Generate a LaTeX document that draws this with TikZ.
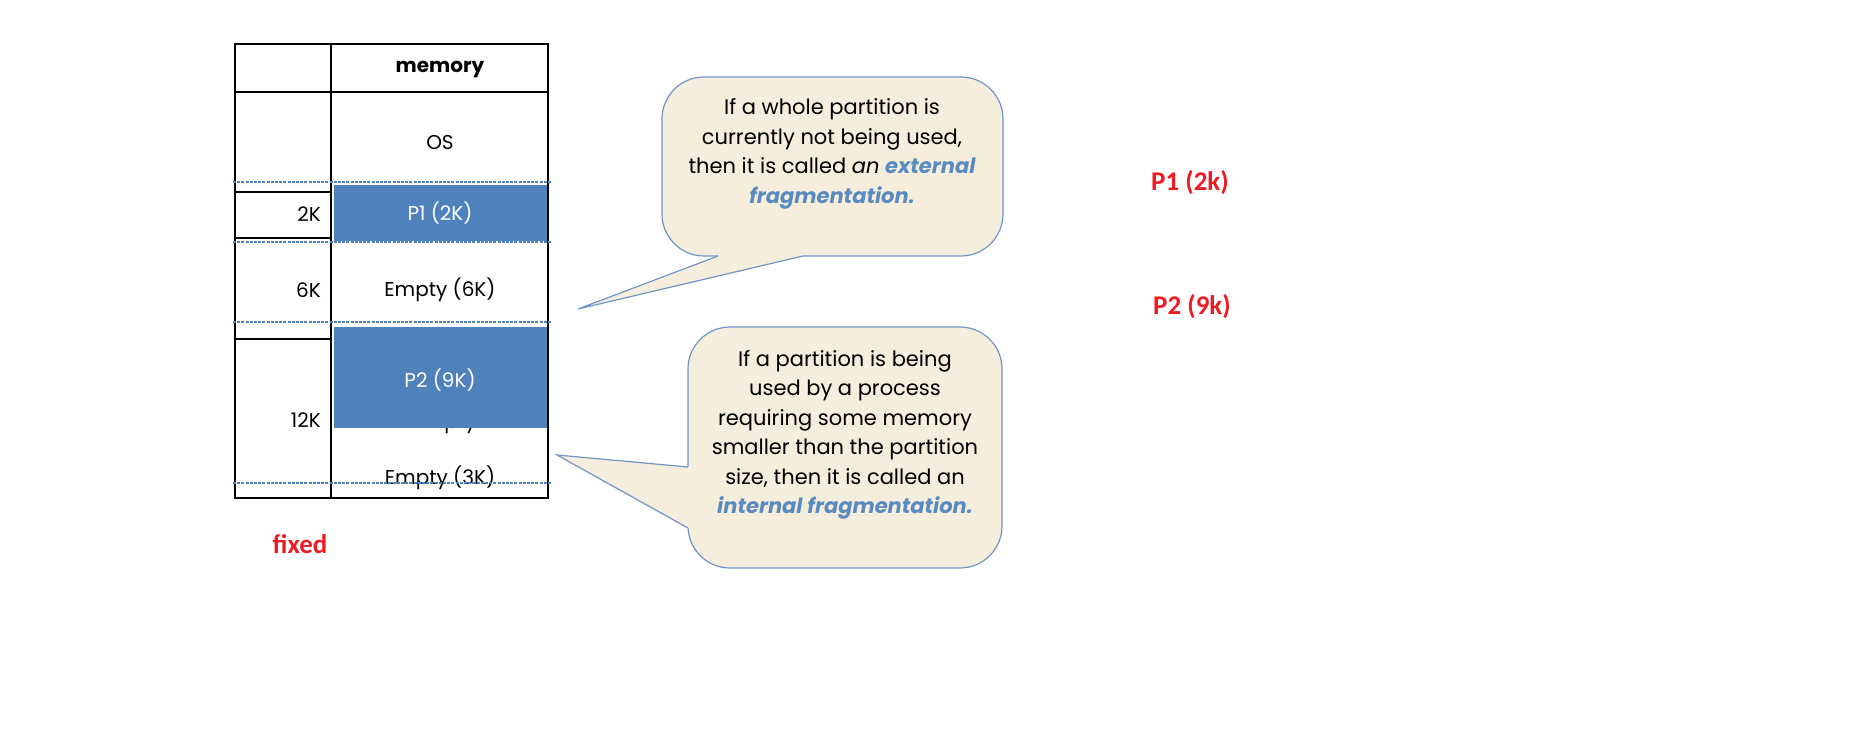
\documentclass[tikz,border=0pt]{standalone}
\usepackage{fontspec}
\setmainfont{Poppins}
\newfontfamily\calfont{Carlito}
\definecolor{pblue}{HTML}{4F81BD}
\definecolor{cream}{HTML}{F5EEDC}
\definecolor{cborder}{HTML}{7094C8}
\definecolor{emblue}{HTML}{5A8BC0}
\definecolor{lred}{HTML}{ED1C24}
\begin{document}
\begin{tikzpicture}[x=1pt,y=-1pt,
  tline/.style={black,line width=2pt},
  dline/.style={pblue,line width=2pt,dash pattern=on 3pt off 1.2pt},
  pbox/.style={fill=pblue,draw=none},
  cell/.style={font=\fontsize{20}{23}\selectfont,inner sep=0pt,anchor=center},
  wcell/.style={cell,text=white},
  numcell/.style={font=\fontsize{20}{23}\selectfont,inner sep=0pt,anchor=east},
  calltext/.style={font=\fontsize{21}{29.5}\selectfont,align=center,inner sep=0pt},
  callbody/.style={fill=cream,draw=cborder,line width=1.2pt,rounded corners=42pt},
  tailside/.style={draw=cborder,line width=1.2pt},
  redlab/.style={font=\calfont\bfseries\fontsize{27}{30}\selectfont,text=lred,inner sep=0pt}
]
\useasboundingbox (0,0) rectangle (1852,743);
% table cells text
\node[cell,font=\bfseries\fontsize{20}{23}\selectfont] (hmem) at (440,69) {memory};
\node[cell] (os) at (440,143) {OS};
\node[numcell] (n2) at (321,214) {2K};
\node[numcell] (n6) at (321,290) {6K};
\node[numcell] (n12) at (321,420) {12K};
\node[cell] (e6) at (440,290) {Empty (6K)};
\node[cell] (ehid) at (445,424) {Empty};
\node[cell] (e3) at (440,478) {Empty (3K)};
% process boxes
\fill[pbox] (334,185) rectangle (548,241);
\fill[pbox] (334,327) rectangle (548,428);
\node[wcell] (p1) at (440,213) {P1 (2K)};
\node[wcell] (p2) at (440,380) {P2 (9K)};
% grid
\draw[tline] (235,44) rectangle (548,498);
\draw[tline] (331,44) -- (331,498);
\draw[tline] (235,92) -- (548,92);
\draw[tline] (235,192) -- (331,192);
\draw[tline] (235,238) -- (331,238);
\draw[tline] (235,339) -- (331,339);
% dashed partition lines
\draw[dline] (233,182) -- (551,182);
\draw[dline] (233,242) -- (551,242);
\draw[dline] (233,322) -- (551,322);
\draw[dline] (233,483) -- (551,483);
% callout 1
\draw[callbody] (662,77) rectangle (1003,256);
\fill[cream] (718,256) -- (578,309) -- (803,256) -- (803,252) -- (718,252) -- cycle;
\draw[tailside] (718,256) -- (578,309) -- (803,256);
\node[calltext] (c1) at (832,154) {If a whole partition is\\currently not being used,\\then it is called \textit{an} \textcolor{emblue}{\bfseries\itshape external}\\\textcolor{emblue}{\bfseries\itshape fragmentation.}};
% callout 2
\draw[callbody] (688,327) rectangle (1002,568);
\fill[cream] (688,467) -- (557,455) -- (688,528) -- (692,528) -- (692,467) -- cycle;
\draw[tailside] (688,467) -- (557,455) -- (688,528);
\node[calltext] (c2) at (845,435) {If a partition is being\\used by a process\\requiring some memory\\smaller than the partition\\size, then it is called an\\\textcolor{emblue}{\bfseries\itshape internal fragmentation.}};
% red labels
\node[redlab] (fx) at (300,544) {fixed};
\node[redlab] (lp1) at (1190,183) {P1 (2k)};
\node[redlab] (lp2) at (1192,307) {P2 (9k)};
\end{tikzpicture}
\end{document}
